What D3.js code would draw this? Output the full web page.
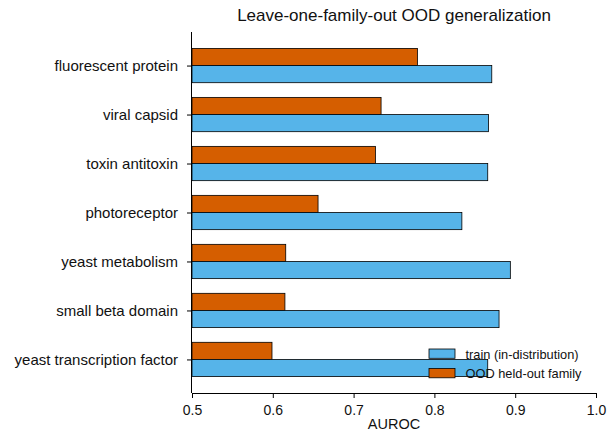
<!DOCTYPE html>
<html>
<head>
<meta charset="utf-8">
<script src="https://cdn.jsdelivr.net/npm/d3@7/dist/d3.min.js"></script>
<style>
  html, body { margin: 0; padding: 0; background: #fff; }
  svg { display: block; font-family: "Liberation Sans", Arial, Helvetica, sans-serif; }
</style>
</head>
<body>
<svg id="chart" width="615" height="444"></svg>
<script>
// Families, listed bottom to top as plotted
const families = [
  "yeast transcription factor",
  "small beta domain",
  "yeast metabolism",
  "photoreceptor",
  "toxin antitoxin",
  "viral capsid",
  "fluorescent protein"
];
const trainAuroc = [0.866, 0.880, 0.894, 0.834, 0.866, 0.867, 0.871];
const oodAuroc   = [0.599, 0.615, 0.616, 0.656, 0.727, 0.734, 0.779];
const xTicks = [0.5, 0.6, 0.7, 0.8, 0.9, 1.0];
const seriesNames = ["train (in-distribution)", "OOD held-out family"];
const seriesColors = ["#56B4E9", "#D55E00"];

(function draw() {
  const svg = d3.select("#chart");
  const plotLeft = 192, plotRight = 596, plotTop = 32, plotBottom = 393;
  const barH = 0.35;

  const x = d3.scaleLinear().domain([0.5, 1.0]).range([plotLeft, plotRight]);
  // numeric category positions with a small margin around the bars
  const yMin = -barH - 0.335, yMax = families.length - 1 + barH + 0.335;
  const y = d3.scaleLinear().domain([yMin, yMax]).range([plotBottom, plotTop]);

  const g = svg.append("g");

  // bars: OOD above the tick, train below
  families.forEach((f, i) => {
    g.append("rect")
      .attr("x", x(0.5))
      .attr("y", y(i + barH))
      .attr("width", x(oodAuroc[i]) - x(0.5))
      .attr("height", y(i) - y(i + barH))
      .attr("fill", seriesColors[1])
      .attr("stroke", "#000")
      .attr("stroke-width", 0.8);
    g.append("rect")
      .attr("x", x(0.5))
      .attr("y", y(i))
      .attr("width", x(trainAuroc[i]) - x(0.5))
      .attr("height", y(i - barH) - y(i))
      .attr("fill", seriesColors[0])
      .attr("stroke", "#000")
      .attr("stroke-width", 0.8);
  });

  const font = "Liberation Sans, Arial, sans-serif";

  // x axis
  const xAxis = d3.axisBottom(x).tickValues(xTicks).tickFormat(d3.format(".1f")).tickSize(5).tickPadding(7.5);
  const xg = svg.append("g").attr("transform", `translate(0,${plotBottom})`).call(xAxis);
  xg.select(".domain").attr("stroke", "#000").attr("stroke-width", 1).attr("d", `M${plotLeft},0.5H${plotRight}`);
  xg.selectAll(".tick line").attr("stroke", "#000");
  xg.selectAll(".tick text").attr("font-size", 14).attr("fill", "#111").attr("font-family", font);

  // y axis
  const yAxis = d3.axisLeft(y).tickValues(d3.range(families.length)).tickFormat(i => families[i]).tickSize(5).tickPadding(9);
  const yg = svg.append("g").attr("transform", `translate(${plotLeft},0)`).call(yAxis);
  yg.select(".domain").attr("stroke", "#000").attr("stroke-width", 1).attr("d", `M-0.5,${plotTop}V${plotBottom}`);
  yg.selectAll(".tick line").attr("stroke", "#000");
  yg.selectAll(".tick text").attr("font-size", 15).attr("fill", "#111").attr("font-family", font);

  // title and axis label
  svg.append("text")
    .attr("x", (plotLeft + plotRight) / 2).attr("y", 21)
    .attr("text-anchor", "middle").attr("font-size", 17).attr("fill", "#111")
    .text("Leave-one-family-out OOD generalization");
  svg.append("text")
    .attr("x", (plotLeft + plotRight) / 2).attr("y", 429)
    .attr("text-anchor", "middle").attr("font-size", 14.5).attr("fill", "#111")
    .text("AUROC");

  // legend (no frame)
  const lg = svg.append("g").attr("transform", "translate(429,349)");
  seriesNames.forEach((name, k) => {
    const row = lg.append("g").attr("transform", `translate(0,${k * 19.5})`);
    row.append("rect").attr("width", 26).attr("height", 9.3)
      .attr("fill", seriesColors[k]).attr("stroke", "#000").attr("stroke-width", 0.8);
    row.append("text").attr("x", 36.5).attr("y", 9.5).attr("font-size", 12.8).attr("fill", "#111")
      .text(name);
  });
})();
</script>
</body>
</html>
